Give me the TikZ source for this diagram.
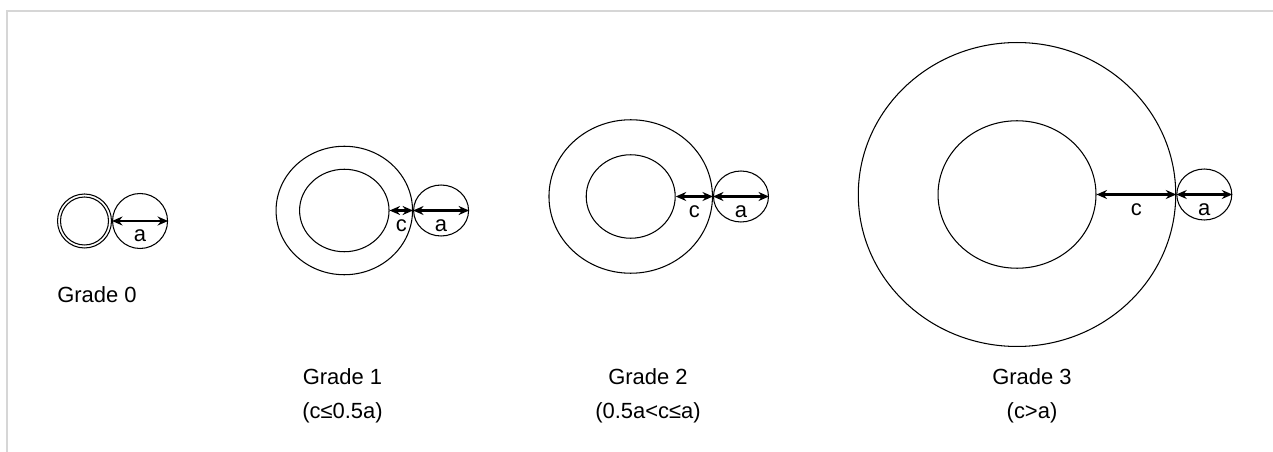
\documentclass[tikz,border=0pt]{standalone}
\usepackage{fontspec}
\setmainfont{Liberation Sans}
\usetikzlibrary{shapes.geometric, arrows.meta, positioning}
\definecolor{framegray}{RGB}{214,214,214}
\newcommand{\gradefont}{\fontsize{12.5}{19.7}\selectfont}
\tikzset{
  rim/.style={ellipse, draw, inner sep=0pt, line width=0.6pt},
  tip/.style={rim, minimum width=1.1cm, minimum height=1.02cm},
  dim/.style={{Stealth[length=2.1mm,width=1.8mm,inset=0.7mm]}-{Stealth[length=2.1mm,width=1.8mm,inset=0.7mm]},
    line width=1.2pt},
  lbl/.style={below=4.5pt, inner sep=0pt, font=\gradefont},
  grade/.style={align=center, inner sep=0pt, font=\gradefont},
  frame/.style={draw=framegray, line width=1.1pt},
}

\begin{document}
\begin{tikzpicture}[x=0.02cm, y=-0.02cm]
\useasboundingbox (0,0) rectangle (1273,452);
\draw[frame] (7,452) |- (1273,11);

% Grade 0
\node[rim, minimum width=1.08cm, minimum height=1.08cm] (out0) at (84.5,221) {};
\node[rim, minimum width=0.96cm, minimum height=0.96cm] (in0) at (out0) {};
\node[tip, minimum height=1.1cm, right=0pt of out0] (tip0) {};
\draw[dim] (out0.east) -- node[lbl] {a} (tip0.east);
\node[grade] (g0) at (97,295) {Grade 0};

% Grade 1
\node[rim, minimum width=2.73cm, minimum height=2.57cm] (out1) at (344.3,210.5) {};
\node[rim, minimum width=1.79cm, minimum height=1.65cm] (in1) at (out1) {};
\node[tip, right=0pt of out1] (tip1) {};
\draw[dim] (in1.east) -- node[lbl] {c} (out1.east);
\draw[dim] (out1.east) -- node[lbl] {a} (tip1.east);
\node[grade, anchor=north] (g1) at (342.5,368) {Grade 1\\(c≤0.5a)};

% Grade 2
\node[rim, minimum width=3.27cm, minimum height=3.07cm] (out2) at (630.7,196.5) {};
\node[rim, minimum width=1.78cm, minimum height=1.67cm] (in2) at (out2) {};
\node[tip, right=0pt of out2] (tip2) {};
\draw[dim] (in2.east) -- node[lbl] {c} (out2.east);
\draw[dim] (out2.east) -- node[lbl] {a} (tip2.east);
\node[grade, anchor=north] (g2) at (648,368) {Grade 2\\(0.5a<c≤a)};

% Grade 3
\node[rim, minimum width=6.35cm, minimum height=6.08cm] (out3) at (1017,194.5) {};
\node[rim, minimum width=3.16cm, minimum height=2.95cm] (in3) at (out3) {};
\node[tip, right=0pt of out3] (tip3) {};
\draw[dim] (in3.east) -- node[lbl] {c} (out3.east);
\draw[dim] (out3.east) -- node[lbl] {a} (tip3.east);
\node[grade, anchor=north] (g3) at (1032,368) {Grade 3\\(c>a)};

\end{tikzpicture}
\end{document}
